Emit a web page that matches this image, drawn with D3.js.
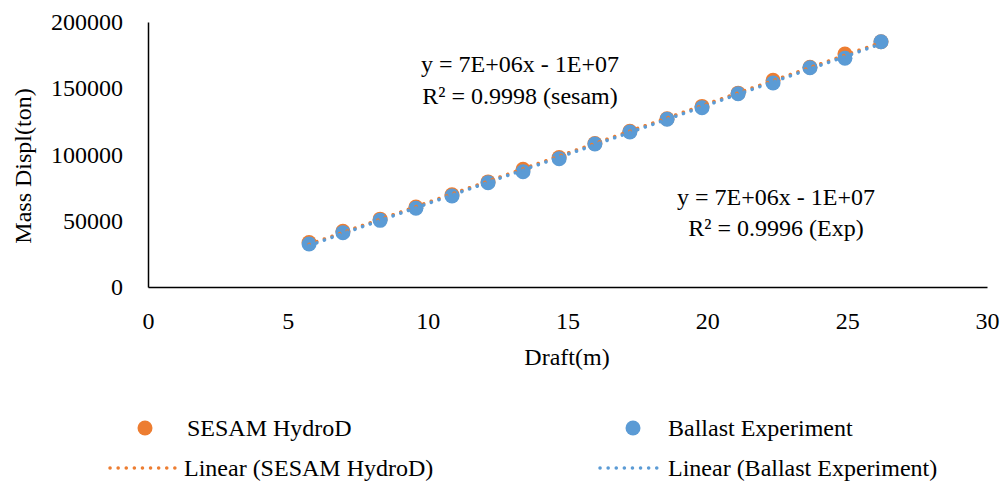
<!DOCTYPE html>
<html>
<head>
<meta charset="utf-8">
<script src="https://cdn.jsdelivr.net/npm/d3@7"></script>
<style>
  html, body { margin: 0; padding: 0; background: #fff; }
  svg text { font-family: "Times New Roman", "Liberation Serif", Times, serif; fill: #000; }
</style>
</head>
<body>
<svg id="chart" width="1003" height="486"></svg>
<script>
// Draft (m) for each loading condition
const draft = [5.76, 6.97, 8.30, 9.58, 10.87, 12.16, 13.41, 14.70, 15.98, 17.23, 18.56, 19.81, 21.10, 22.35, 23.67, 24.92, 26.21];
// Mass displacement (ton), SESAM HydroD
const sesam = [33500, 42000, 51200, 60300, 69600, 79300, 88900, 97700, 108300, 117500, 127000, 136300, 146300, 156000, 165800, 175800, 185100];
// Mass displacement (ton), ballast experiment
const ballast = [32500, 41000, 50300, 59400, 68700, 78700, 87000, 96800, 107900, 117000, 126600, 135300, 145900, 154000, 165500, 172600, 185100];

const xTicks = [0, 5, 10, 15, 20, 25, 30];
const yTicks = [0, 50000, 100000, 150000, 200000];

const seriesNames = ["SESAM HydroD", "Ballast Experiment"];
const trendNames = ["Linear (SESAM HydroD)", "Linear (Ballast Experiment)"];
const fitLabels = [
  ["y = 7E+06x - 1E+07", "R\u00B2 = 0.9998 (sesam)"],
  ["y = 7E+06x - 1E+07", "R\u00B2 = 0.9996 (Exp)"]
];

const colors = ["#ED7D31", "#5B9BD5"];
const fontSize = 24;
const serif = '"Times New Roman", "Liberation Serif", Times, serif';

const svg = d3.select("#chart");
const plot = { left: 148, right: 987, top: 22, bottom: 287 };

const x = d3.scaleLinear().domain([0, 30]).range([plot.left, plot.right]);
const y = d3.scaleLinear().domain([0, 200000]).range([plot.bottom, plot.top]);

// Axes: only the baseline lines, no tick marks
const xAxis = d3.axisBottom(x).tickValues(xTicks).tickSize(0).tickPadding(28).tickFormat(d3.format("d"));
const yAxis = d3.axisLeft(y).tickValues(yTicks).tickSize(0).tickPadding(25).tickFormat(d3.format("d"));

const gx = svg.append("g").attr("transform", `translate(0,${plot.bottom})`).call(xAxis);
const gy = svg.append("g").attr("transform", `translate(${plot.left},0)`).call(yAxis);
[gx, gy].forEach(g => {
  g.attr("font-family", serif).attr("font-size", fontSize);
  g.select(".domain").attr("stroke", "#000").attr("stroke-width", 1.5);
  g.selectAll("text").attr("fill", "#000");
});
gx.selectAll("text").attr("dy", "0.6em");

// Axis titles
svg.append("text").attr("x", 567).attr("y", 357).attr("text-anchor", "middle")
  .attr("dominant-baseline", "central").attr("font-size", fontSize).text("Draft(m)");
svg.append("text").attr("transform", "translate(23,166) rotate(-90)").attr("text-anchor", "middle")
  .attr("dominant-baseline", "central").attr("font-size", fontSize).text("Mass Displ(ton)");

// Least-squares trend line for a series
function linearFit(xs, ys) {
  const mx = d3.mean(xs), my = d3.mean(ys);
  let sxy = 0, sxx = 0;
  xs.forEach((v, i) => { sxy += (v - mx) * (ys[i] - my); sxx += (v - mx) * (v - mx); });
  const b = sxy / sxx;
  return { slope: b, intercept: my - b * mx };
}

const seriesData = [sesam, ballast];

// Markers (SESAM first, ballast on top)
seriesData.forEach((vals, si) => {
  svg.append("g").selectAll("circle").data(vals).join("circle")
    .attr("cx", (d, i) => x(draft[i]))
    .attr("cy", d => y(d))
    .attr("r", 7.5)
    .attr("fill", colors[si]);
});

// Dotted trend lines over the data range
seriesData.forEach((vals, si) => {
  const fit = linearFit(draft, vals);
  const x0 = d3.min(draft), x1 = d3.max(draft);
  svg.append("line")
    .attr("x1", x(x0)).attr("y1", y(fit.intercept + fit.slope * x0))
    .attr("x2", x(x1)).attr("y2", y(fit.intercept + fit.slope * x1))
    .attr("stroke", colors[si]).attr("stroke-width", 3.5)
    .attr("stroke-linecap", "round").attr("stroke-dasharray", "0.1 8");
});

// Fit equations
const fitPos = [[520, 64, 96], [776, 197, 228]];
fitLabels.forEach((lines, i) => {
  lines.forEach((t, j) => {
    svg.append("text").attr("x", fitPos[i][0]).attr("y", fitPos[i][1 + j])
      .attr("text-anchor", "middle").attr("dominant-baseline", "central")
      .attr("font-size", fontSize).text(t);
  });
});

// Legend
const legendCols = [[145, 187, 110, 178, 184], [633, 668, 600, 664, 668]];
const rowY = [428, 468];
seriesNames.forEach((name, i) => {
  const c = legendCols[i];
  svg.append("circle").attr("cx", c[0]).attr("cy", rowY[0]).attr("r", 7.5).attr("fill", colors[i]);
  svg.append("text").attr("x", c[1]).attr("y", rowY[0]).attr("dominant-baseline", "central")
    .attr("font-size", fontSize).text(name);
  svg.append("line").attr("x1", c[2]).attr("x2", c[3]).attr("y1", rowY[1]).attr("y2", rowY[1])
    .attr("stroke", colors[i]).attr("stroke-width", 3.5)
    .attr("stroke-linecap", "round").attr("stroke-dasharray", "0.1 8");
  svg.append("text").attr("x", c[4]).attr("y", rowY[1]).attr("dominant-baseline", "central")
    .attr("font-size", fontSize).text(trendNames[i]);
});
</script>
</body>
</html>
